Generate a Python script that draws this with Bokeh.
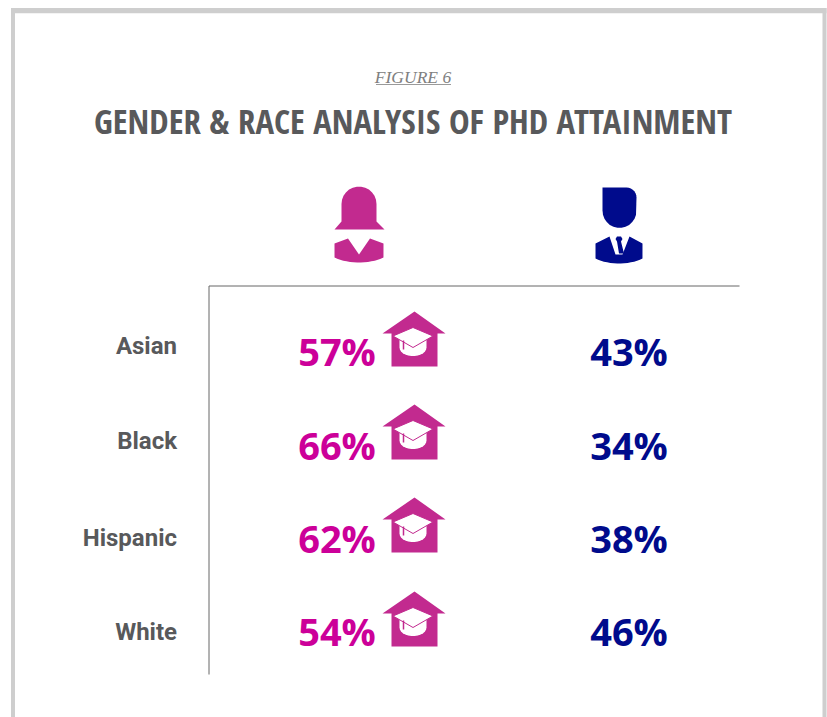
from bokeh.plotting import figure
from bokeh.models import Range1d
from bokeh.core.properties import value
from bokeh.embed import file_html
from bokeh.resources import INLINE
import numpy as np

categories = ["Asian", "Black", "Hispanic", "White"]
women_pct = [57, 66, 62, 54]
men_pct = [43, 34, 38, 46]
figure_label = "FIGURE 6"
title_text = "GENDER & RACE ANALYSIS OF PHD ATTAINMENT"

PINK, ICON, NAVY, GREY, RULE = "#CC0099", "#C22A8F", "#000B8C", "#58595B", "#666666"
row_pct_y = [350, 444, 537, 630]
row_label_y = [345, 440, 537, 631]
row_icon_y = [311, 404, 497, 591]

p = figure(width=827, height=717, x_range=Range1d(0, 827), y_range=Range1d(717, 0),
           output_backend="svg", toolbar_location=None, min_border=0,
           outline_line_color=None, background_fill_color="white", border_fill_color="white")
p.axis.visible = False
p.grid.visible = False

# frame
p.quad(left=[10.5, 10.5, 822], right=[14.5, 826, 826], top=[7.5, 7.5, 7.5], bottom=[717, 12.7, 717],
       fill_color="#CECECE", line_color=None)

# headings
p.text([412.5], [76], text=[figure_label], text_font=value("Liberation Serif"), text_font_style="italic",
       text_font_size="17.5px", text_color="#808080", text_align="center", text_baseline="middle")
p.line([375.5, 450.5], [84, 84], line_color="#9A9A9A", line_width=1)
p.text([412.5], [120], text=[title_text], text_font=value("Open Sans Condensed"), text_font_style="bold",
       text_font_size="34.7px", text_color=GREY, text_align="center", text_baseline="middle")

# rules
p.line([739, 208.5, 208.5], [285.5, 285.5, 674], line_color=RULE, line_width=1)

def arc(cx, cy, rx, ry, a0, a1, n=14):
    t = np.radians(np.linspace(a0, a1, n))
    return list(cx + rx * np.cos(t)), list(cy + ry * np.sin(t))

# woman icon
ax, ay = arc(358.5, 203.5, 17.5, 17.5, 180, 360)
p.patch([341] + ax[1:-1] + [376, 376, 384, 334, 341],
        [203.5] + ay[1:-1] + [203.5, 221, 229, 229, 221], fill_color=ICON, line_color=None)
bx, by = arc(358.5, 245, 34.6, 17, 45, 135, 16)
p.patch([334, 347.5, 358.5, 369.5, 383] + bx + [334],
        [243, 238, 254, 238, 243] + by + [243], fill_color=ICON, line_color=None)

# man icon
hx, hy = arc(619, 210, 17, 17.5, 0, 180)
tx, ty = arc(626, 197, 10, 10, -90, 0, 8)
p.patch([602] + tx + hx[1:-1] + [602], [187] + ty + hy[1:-1] + [210], fill_color=NAVY, line_color=None)
bx, by = arc(618.5, 246, 33.2, 17, 45, 135, 16)
p.patch([595, 609, 615, 622, 629, 642] + bx + [595],
        [243, 236, 254, 254, 236, 243] + by + [243], fill_color=NAVY, line_color=None)
p.patch([616.5, 620.5, 622, 620.5, 623.5, 618.5, 616.5, 615], [236, 236, 238.5, 241, 253, 253, 241, 238.5],
        fill_color=NAVY, line_color=None)

# cap-on-house icons
def house(top):
    d = top
    p.patch([414, 445, 437, 437, 391, 391, 382], [d, d + 22, d + 22, d + 55, d + 55, d + 22, d + 22],
            fill_color=ICON, line_color=None)
    bx, by = arc(412.5, d + 36, 13.5, 8.5, 0, 180)
    p.patch([399, 426] + bx, [d + 28, d + 28] + by, fill_color="white", line_color=None)
    p.patch([412.5, 432.5, 412.5, 392.5], [d + 16, d + 24.5, d + 36, d + 24.5], fill_color="white",
            line_color=ICON, line_width=1)
    p.line([403, 403], [d + 29, d + 38], line_color=ICON, line_width=1.5)

for top in row_icon_y:
    house(top)

# row text
p.text([176.5] * 4, row_label_y, text=categories, text_font=value("Roboto"), text_font_style="bold",
       text_font_size="24px", text_color=GREY, text_align="right", text_baseline="middle")
p.text([336.5] * 4, row_pct_y, text=[f"{v}%" for v in women_pct], text_font=value("Open Sans"),
       text_font_style="bold", text_font_size="38px", text_color=PINK, text_align="center", text_baseline="middle")
p.text([628.5] * 4, row_pct_y, text=[f"{v}%" for v in men_pct], text_font=value("Open Sans"),
       text_font_style="bold", text_font_size="38px", text_color=NAVY, text_align="center", text_baseline="middle")

open("out.html", "w").write(file_html(p, INLINE))
